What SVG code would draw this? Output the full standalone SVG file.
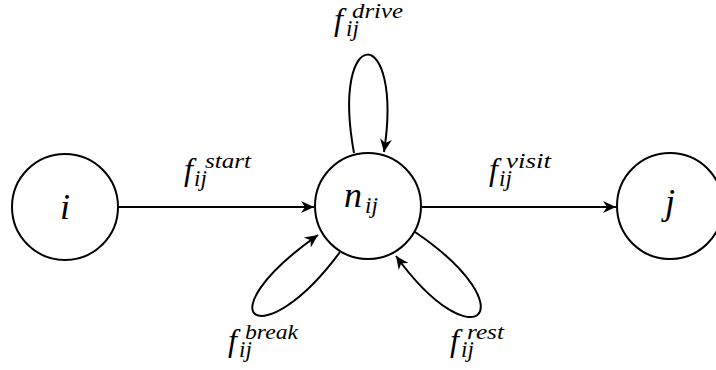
<svg xmlns="http://www.w3.org/2000/svg" width="716" height="370" viewBox="0 0 716 370">
<style>
.node{fill:#fff;stroke:#000;stroke-width:2}
.edge{fill:none;stroke:#000;stroke-width:2}
text{font-family:"Liberation Serif","DejaVu Serif",serif;font-style:italic;fill:#000}
.big{font-size:36px}
.f{font-size:32px}
.s{font-size:21px}
.sb{font-size:23px}
</style>
<defs>
<marker id="arr" markerUnits="userSpaceOnUse" markerWidth="16" markerHeight="14" refX="13" refY="6" orient="auto" overflow="visible">
<path d="M0,0 L13,6 L0,12 L4,6 Z" fill="#000"/>
</marker>
</defs>
<g id="connectors">
<path class="edge" d="M118,207 L314,207" marker-end="url(#arr)"/>
<path class="edge" d="M422,207 L616,207" marker-end="url(#arr)"/>
<path class="edge" d="M354,153 C330,22 404,22 384,152" marker-end="url(#arr)"/>
<path class="edge" d="M340,252 C262,358 200,318 318,235" marker-end="url(#arr)"/>
<path class="edge" d="M415,232 C530,310 475,365 396,256" marker-end="url(#arr)"/>
</g>
<g id="node-i">
<circle class="node" cx="65" cy="207" r="53"/>
<text class="big" x="65" y="219" text-anchor="middle">i</text>
</g>
<g id="node-n">
<circle class="node" cx="368" cy="206" r="53"/>
<text class="big" x="344" y="207">n</text>
<text class="sb" x="365" y="213">ij</text>
</g>
<g id="node-j">
<circle class="node" cx="670" cy="206" r="53"/>
<text class="big" x="670" y="214" text-anchor="middle">j</text>
</g>
<g id="label-start">
<text class="f" x="184" y="180">f</text>
<text class="s" x="205" y="168" textLength="46" lengthAdjust="spacingAndGlyphs">start</text>
<text class="sb" x="194" y="186">ij</text>
</g>
<g id="label-drive">
<text class="f" x="334" y="30">f</text>
<text class="s" x="352" y="18" textLength="51" lengthAdjust="spacingAndGlyphs">drive</text>
<text class="sb" x="346" y="36">ij</text>
</g>
<g id="label-visit">
<text class="f" x="489" y="180">f</text>
<text class="s" x="506" y="168" textLength="45" lengthAdjust="spacingAndGlyphs">visit</text>
<text class="sb" x="499" y="186">ij</text>
</g>
<g id="label-break">
<text class="f" x="228" y="351">f</text>
<text class="s" x="245" y="339" textLength="53" lengthAdjust="spacingAndGlyphs">break</text>
<text class="sb" x="239" y="357">ij</text>
</g>
<g id="label-rest">
<text class="f" x="450" y="351">f</text>
<text class="s" x="467" y="339" textLength="37" lengthAdjust="spacingAndGlyphs">rest</text>
<text class="sb" x="461" y="357">ij</text>
</g>
</svg>
